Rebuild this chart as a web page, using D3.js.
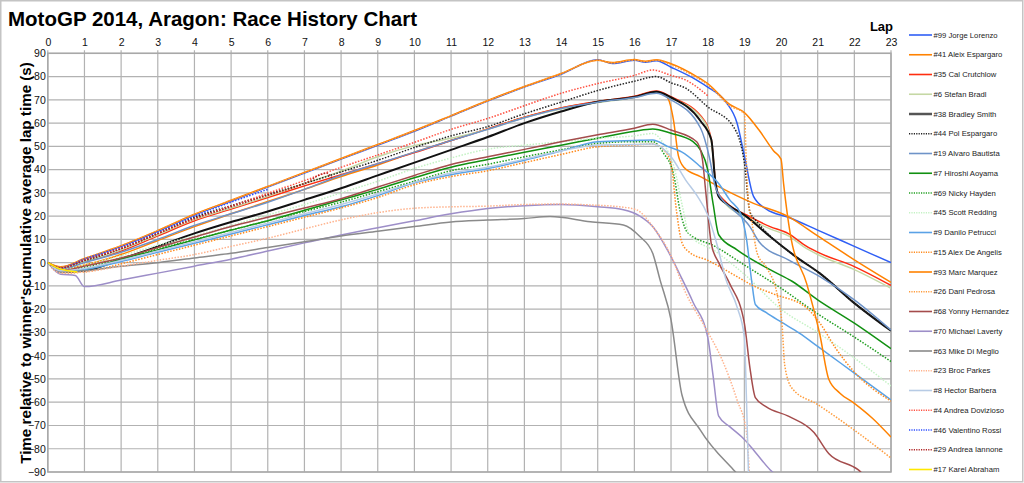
<!DOCTYPE html>
<html>
<head>
<meta charset="utf-8">
<script src="https://cdn.jsdelivr.net/npm/d3@7"></script>
<style>
  body { margin: 0; background: #fff; }
  svg { display: block; font-family: "Liberation Sans", Arial, sans-serif; }
</style>
</head>
<body>
<svg width="1024" height="483"></svg>
<script>
// lap ticks and gap ticks
const lapTicks = [0,1,2,3,4,5,6,7,8,9,10,11,12,13,14,15,16,17,18,19,20,21,22,23];
const gapTicks = [90,80,70,60,50,40,30,20,10,0,-10,-20,-30,-40,-50,-60,-70,-80,-90];

const riders = ["#99 Jorge Lorenzo","#41 Aleix Espargaro","#35 Cal Crutchlow","#6 Stefan Bradl",
  "#38 Bradley Smith","#44 Pol Espargaro","#19 Alvaro Bautista","#7 Hiroshi Aoyama","#69 Nicky Hayden",
  "#45 Scott Redding","#9 Danilo Petrucci","#15 Alex De Angelis","#93 Marc Marquez","#26 Dani Pedrosa",
  "#68 Yonny Hernandez","#70 Michael Laverty","#63 Mike Di Meglio","#23 Broc Parkes","#8 Hector Barbera",
  "#4 Andrea Dovizioso","#46 Valentino Rossi","#29 Andrea Iannone","#17 Karel Abraham"];

// [lap, seconds relative to winner's cumulative average lap time]
const lorenzo = [[0,0],[0.35,-2],[1,1.5],[2,7],[3,13.5],[4,20.5],[5,26.5],[6,32.5],[7,38.5],[8,44.5],[9,50.5],[10,56.5],[11,63],[12,69.5],[13,75.5],[14,81],[15,87.2],[15.4,85.6],[16,87],[16.3,86.2],[16.6,86.8],[17,84],[17.7,78.5],[18,75.5],[18.5,69],[18.8,60],[19,46],[19.25,28.5],[19.6,23],[20.2,19.5],[21,14],[22,7],[23,0]];
const aleix = [[0,0],[0.35,-3],[1,-1],[2,3.5],[3,9.5],[4,15.5],[5,21],[6,26.3],[7,31.5],[8,37],[9,42],[10,47.5],[11,52.5],[12,57.5],[13,62.5],[14,66.5],[15,69.2],[16,71.3],[16.6,73.5],[16.9,71],[17.07,61],[17.2,46],[17.35,41],[17.8,37],[18.3,32.7],[19.25,25.5],[20.2,19.8],[21,11.5],[22,1.2],[23,-8.5]];
const crutchlow = [[0,0],[0.35,-2.5],[1,0.3],[2,5],[3,11.5],[4,18],[5,23],[6,28],[7,33],[8,37.8],[9,42.5],[10,47.3],[11,52.5],[12,57.5],[13,62.5],[14,66.5],[15,69.3],[16,71.5],[16.6,73.8],[17,71.3],[17.9,61.3],[18.1,52.7],[18.25,31],[18.5,26],[19.06,20.5],[19.7,15.5],[20.2,12.5],[20.7,7],[21,4.5],[22,-1.7],[23,-9.8]];
const bradl = [[0,0],[0.35,-2.5],[1,0.5],[2,5.5],[3,12],[4,18.5],[5,23.5],[6,28.5],[7,34],[8,39.3],[9,45.5],[10,50.3],[11,53.5],[12,57.3],[13,62.3],[14,66],[15,68.8],[16,71],[16.6,73],[17,70.8],[17.9,60.8],[18.1,52],[18.25,30.5],[18.5,25],[19.06,19.5],[19.7,14.5],[20.2,11.5],[20.7,6],[21,3.5],[22,-3],[23,-11]];
const smith = [[0,0],[0.35,-4],[1,-3.5],[2,1.5],[3,7],[4,12.6],[5,17.5],[6,22],[7,27],[8,32],[9,37.5],[10,43],[11,48.5],[12,54],[13,60],[14,65],[15,69.2],[16,71.2],[16.6,73.5],[17,71],[17.8,61],[18.1,52.8],[18.2,36],[18.3,28.4],[18.5,25.5],[19.06,19.8],[19.7,11.2],[20.4,2.6],[21.06,-4.6],[22,-17.4],[23,-29.3]];
const pol = [[0,0],[0.35,-2.3],[1,0.8],[2,6],[3,12.5],[4,19.5],[5,24.5],[6,29.3],[7,34],[8,39],[9,44],[10,49.5],[11,54.5],[12,58.5],[13,64],[14,69],[15,74],[16,78],[16.6,80],[17,77.3],[17.4,75],[18,67],[18.7,58.5],[19,43],[19.15,22],[19.35,17.5],[19.7,11.5],[20.4,2.6],[21.06,-4.6],[22,-17.4],[23,-29]];
const bautista = [[0,0],[0.35,-2.8],[1,0],[2,4.5],[3,10],[4,16],[5,21],[6,26],[7,31.5],[8,37.5],[9,42.5],[10,47.5],[11,52.5],[12,57.3],[13,62.3],[14,66.3],[15,69],[16,71],[16.6,72.8],[17,70],[17.8,58],[18.05,45],[18.2,33],[18.4,27],[18.6,24],[19.15,15.5],[19.4,9],[20.2,1.2],[21.06,-6],[22,-16],[23,-29]];
const aoyama = [[0,0],[0.35,-4],[1,-3],[2,1.5],[3,5.5],[4,9.8],[5,14],[6,18],[7,22.5],[8,27],[9,31.5],[10,36.5],[11,41],[12,44.3],[13,47.5],[14,50.5],[15,53.5],[16,56.5],[16.5,57.5],[17,55.6],[17.6,52],[17.8,48.5],[18,40],[18.15,25],[18.3,12],[18.8,5.5],[19.7,-3],[20.3,-8],[21,-16],[22,-26],[23,-37]];
const hayden = [[0,0],[0.35,-3.5],[1,-2],[2,2],[3,6],[4,10],[5,14],[6,18],[7,22],[8,26],[9,30.5],[10,35],[11,39.5],[12,42.3],[13,45.5],[14,48.5],[15,51.3],[16,52],[16.5,52],[16.8,47],[17.07,38],[17.25,22],[17.45,13],[18.2,7],[19,-1],[20,-11],[21,-22],[22,-32],[23,-42.5]];
const redding = [[0,0],[0.35,-3],[1,-1],[2,3],[3,7.5],[4,11.5],[5,16],[6,20.5],[7,25],[8,30],[9,35],[10,40.5],[11,45],[12,48.8],[13,50.5],[14,52],[15,53.5],[16,54.5],[16.5,55.5],[16.8,51],[17.1,40],[17.3,25],[17.5,12],[18.2,5],[19,-5],[20,-20],[21,-30],[22,-41],[23,-53]];
const petrucci = [[0,0],[0.35,-4],[1,-3],[2,0.5],[3,4.5],[4,8.3],[5,12.3],[6,16.3],[7,20.3],[8,24],[9,28.8],[10,34.3],[11,37.8],[12,40.5],[13,44],[14,48],[15,52],[16,52.5],[16.5,52.7],[16.9,50],[17.3,47.5],[17.8,41.3],[18.3,34],[18.6,27],[18.9,21],[19.06,10],[19.2,-8],[19.3,-18],[19.6,-21.5],[20,-25.5],[20.5,-30.3],[21,-36],[22,-47.5],[23,-59]];
const deAngelis = [[0,0],[0.35,-4.5],[1,-4],[2,-0.5],[3,3.5],[4,7.5],[5,11.5],[6,15.5],[7,19.5],[8,23.5],[9,28],[10,33.5],[11,37],[12,39.5],[13,43],[14,46.5],[15,49.8],[16,50.6],[16.5,51],[16.8,48.5],[17,42.5],[17.15,22],[17.3,8.5],[17.5,4.5],[18,1],[18.8,-6],[19.25,-10],[19.8,-13.5],[20.7,-19.5],[21.06,-26],[21.5,-37],[22,-47],[23,-59.5]];
const marquez = [[0,0],[0.35,-1.8],[1,1.8],[2,7.3],[3,13.8],[4,20.8],[5,26.8],[6,32.8],[7,38.8],[8,44.8],[9,50.8],[10,56.8],[11,63.2],[12,69.7],[13,75.7],[14,81.3],[15,87],[15.4,86],[16,87.3],[16.3,86.6],[16.6,87.2],[17,85.5],[17.7,80],[18,77],[18.6,68],[19,64.5],[19.4,57],[19.8,48],[20,44.5],[20.07,34],[20.25,12.6],[20.7,-9],[21.06,-31],[21.3,-50],[21.6,-56],[22,-60.5],[22.5,-67],[23,-75]];
const pedrosa = [[0,0],[0.35,-1.9],[1,1.7],[2,7.2],[3,13.7],[4,20.7],[5,26.7],[6,32.7],[7,38.7],[8,44.7],[9,50.7],[10,56.7],[11,63.1],[12,69.6],[13,75.6],[14,81.2],[15,87],[15.4,85.8],[16,87.1],[16.3,86.4],[16.6,87],[17,85],[17.7,79.5],[18,76.5],[18.6,67.5],[19,64],[19.05,45],[19.1,28],[19.2,18],[19.35,4],[19.6,-2],[19.9,-14],[20.03,-27],[20.1,-44],[20.3,-54],[21,-61],[22,-72],[23,-84]];
const hernandez = [[0,0],[0.35,-3.5],[1,-1.5],[2,2],[3,6.5],[4,11],[5,15.5],[6,19.5],[7,23.5],[8,27.5],[9,32.5],[10,37.5],[11,42.2],[12,45.5],[13,48.7],[14,52],[15,55],[16,57.8],[16.5,59.5],[17,57],[17.7,52],[17.85,45],[17.95,30],[18.1,8],[18.3,0],[18.6,-9],[19,-26],[19.15,-45],[19.3,-58],[19.6,-62],[20.2,-66],[20.9,-73],[21.3,-82],[22.1,-89],[22.5,-95]];
const laverty = [[0,0],[0.35,-5],[0.75,-5.5],[1,-10.3],[2,-7.5],[3,-4.5],[4,-1.5],[5,1.5],[6,5],[7,8.5],[8,11.9],[9,15],[10,18],[11,21],[12,23.3],[13,24.5],[14,25],[15,24],[15.7,22.7],[16.15,20],[16.5,15.5],[16.9,5.5],[17.3,-7],[17.6,-17],[18,-32],[18.15,-49],[18.3,-66],[18.6,-70.5],[19,-76],[19.25,-80.5],[19.7,-89],[20,-93]];
const diMeglio = [[0,0],[0.35,-4],[1,-3.5],[2,-1.5],[3,0],[4,2],[5,4],[6,6.5],[7,9],[8,11.5],[9,13.5],[10,15.5],[11,17.5],[12,18.3],[13,19],[13.7,19.8],[14.8,17.6],[15.7,16.2],[16.15,11.2],[16.5,4],[16.7,-7.4],[17,-24.6],[17.3,-57],[17.8,-72],[18.7,-89],[19,-94]];
const parkes = [[0,0],[0.35,-4.5],[1,-4],[2,-1.5],[3,1],[4,3.5],[5,7],[6,10.5],[7,14.5],[8,18.4],[9,21.5],[10,23.4],[11,24],[12,24.3],[13,25],[14,25.2],[14.8,24.8],[15.6,24],[16.06,22.7],[16.5,15.5],[17,3],[17.4,-13],[17.9,-27],[18.4,-42],[18.8,-59],[19.06,-73],[19.15,-95]];
const barbera = [[0,0],[0.35,-3.5],[1,-2.5],[2,1],[3,5],[4,9],[5,13],[6,17],[7,21],[8,25],[9,29.5],[10,34.5],[11,38.5],[12,41],[13,44.5],[14,48],[15,50.6],[16,50.8],[16.5,51],[17,45.5],[17.4,35.5],[17.7,29],[18,20.5],[18.25,8],[18.5,-7.4],[18.8,-19],[19,-32],[19.06,-60],[19.12,-95]];
const dovizioso = [[0,0],[0.35,-2.3],[1,1.2],[2,6.3],[3,12.5],[4,18.8],[5,24.3],[6,29.8],[7,35.3],[8,41],[9,46.3],[10,51.7],[11,57.3],[12,62],[13,67.5],[14,72.8],[15,77],[16,80.5],[16.5,82.8],[17,80.5],[17.4,78.5],[18,71.8]];
const rossi = [[0,0],[0.35,-2.2],[1,1.6],[2,6.8],[3,13.2],[4,20],[5,26],[6,31.5]];
const iannone = [[0,0],[0.35,-2.3],[1,1],[2,6],[3,12.5],[4,19],[5,24],[6,29],[7,34],[7.6,38.5],[7.75,36.3]];
const abraham = [[0,0],[0.3,-2.5],[0.8,-4]];

const tracks = [lorenzo, aleix, crutchlow, bradl, smith, pol, bautista, aoyama, hayden, redding,
  petrucci, deAngelis, marquez, pedrosa, hernandez, laverty, diMeglio, parkes, barbera,
  dovizioso, rossi, iannone, abraham];

// line styles, same order as riders
const colors = ["#2f5ff5","#ff8200","#ff2d0f","#c5d8a4","#111111","#222222","#6e93c8","#119011","#1f9e1f",
  "#c4f2c4","#5aa2e6","#ff8a1c","#ff8200","#ff9c3c","#a44c4c","#9d8ec8","#8a8a8a","#ffb28c","#b7cbe5",
  "#ff5040","#2a4cff","#b02424","#ffe800"];
const dotted = [0,0,0,0,0,1,0,0,1,1,0,1,0,1,0,0,0,1,0,1,1,1,0];

window.addEventListener('load', e => {
    let left = 47.8, right = 891, top = 53.3, bottom = 472;
    let svg = d3.select("svg");

    let xScale = d3.scaleLinear().domain([0, 23]).range([left, right]);
    let yScale = d3.scaleLinear().domain([-90, 90]).range([bottom, top]);

    // outer frame
    svg.append("rect")
       .attr("x", 0.75).attr("y", 0.75).attr("width", 1022).attr("height", 481)
       .attr("fill", "#fff").attr("stroke", "#c4c4c4").attr("stroke-width", 1.5);

    svg.append("text")
       .attr("x", 8).attr("y", 26)
       .style("font-size", "20.5px").style("font-weight", "bold")
       .text("MotoGP 2014, Aragon: Race History Chart");

    // grid
    let grid = svg.append("g").attr("stroke", "#b2b2b2").attr("stroke-width", 1.2);
    grid.selectAll(".gx").data(lapTicks).enter().append("line")
        .attr("x1", d => xScale(d)).attr("x2", d => xScale(d))
        .attr("y1", top - 3).attr("y2", bottom);
    grid.selectAll(".gy").data(gapTicks).enter().append("line")
        .attr("x1", left).attr("x2", right)
        .attr("y1", d => yScale(d)).attr("y2", d => yScale(d));

    // axes (labels only, grid drawn above)
    let xAxis = d3.axisTop(xScale).tickValues(lapTicks).tickSize(0).tickPadding(7);
    let yAxis = d3.axisLeft(yScale).tickValues(gapTicks).tickSize(0).tickPadding(2);
    let gx = svg.append("g").attr("transform", "translate(0," + top + ")").call(xAxis);
    let gy = svg.append("g").attr("transform", "translate(" + left + ",0)").call(yAxis);
    [gx, gy].forEach(g => {
        g.select(".domain").remove();
        g.selectAll("text").style("font-size", "10.5px")
         .style("font-family", "'Liberation Sans', Arial, sans-serif").attr("fill", "#111");
    });

    svg.append("rect")
       .attr("x", left).attr("y", top).attr("width", right - left).attr("height", bottom - top)
       .attr("fill", "none").attr("stroke", "#a8a8a8").attr("stroke-width", 1.5);

    svg.append("text")
       .attr("x", 893).attr("y", 31)
       .style("text-anchor", "end").style("font-size", "13px").style("font-weight", "bold")
       .text("Lap");

    svg.append("text")
       .attr("transform", "rotate(-90)")
       .attr("x", -263).attr("y", 31)
       .style("text-anchor", "middle").style("font-size", "15.2px").style("font-weight", "bold")
       .text("Time relative to winner'scumulative average lap time (s)");

    svg.append("clipPath").attr("id", "plot")
       .append("rect").attr("x", left).attr("y", top).attr("width", right - left).attr("height", bottom - top);

    let line = d3.line()
                 .x(d => xScale(d[0]))
                 .y(d => yScale(d[1]))
                 .curve(d3.curveMonotoneX);

    svg.append("g")
       .attr("clip-path", "url(#plot)")
      .selectAll("path")
      .data(tracks)
      .enter()
      .append("path")
        .attr("d", d => line(d))
        .attr("fill", "none")
        .attr("stroke", (d, i) => colors[i])
        .attr("stroke-width", (d, i) => i == 4 ? 2 : 1.5)
        .attr("stroke-dasharray", (d, i) => dotted[i] ? "1.5,1.5" : null);

    // legend
    let legend = svg.append("g")
                    .selectAll("g")
                    .data(riders)
                    .enter()
                    .append("g")
                      .attr("transform", (d, i) => "translate(909," + (35 + i * 19.75) + ")");
    legend.append("line")
          .attr("x1", 0).attr("x2", 23)
          .attr("stroke", (d, i) => i == 4 ? "#555" : colors[i])
          .attr("stroke-width", (d, i) => i == 4 ? 2.5 : 1.6)
          .attr("stroke-dasharray", (d, i) => dotted[i] ? "1.2,1.2" : null);
    legend.append("text")
          .attr("x", 24.5).attr("y", 2.7)
          .style("font-size", "7.7px")
          .attr("fill", "#222")
          .text(d => d);
});
</script>
</body>
</html>
